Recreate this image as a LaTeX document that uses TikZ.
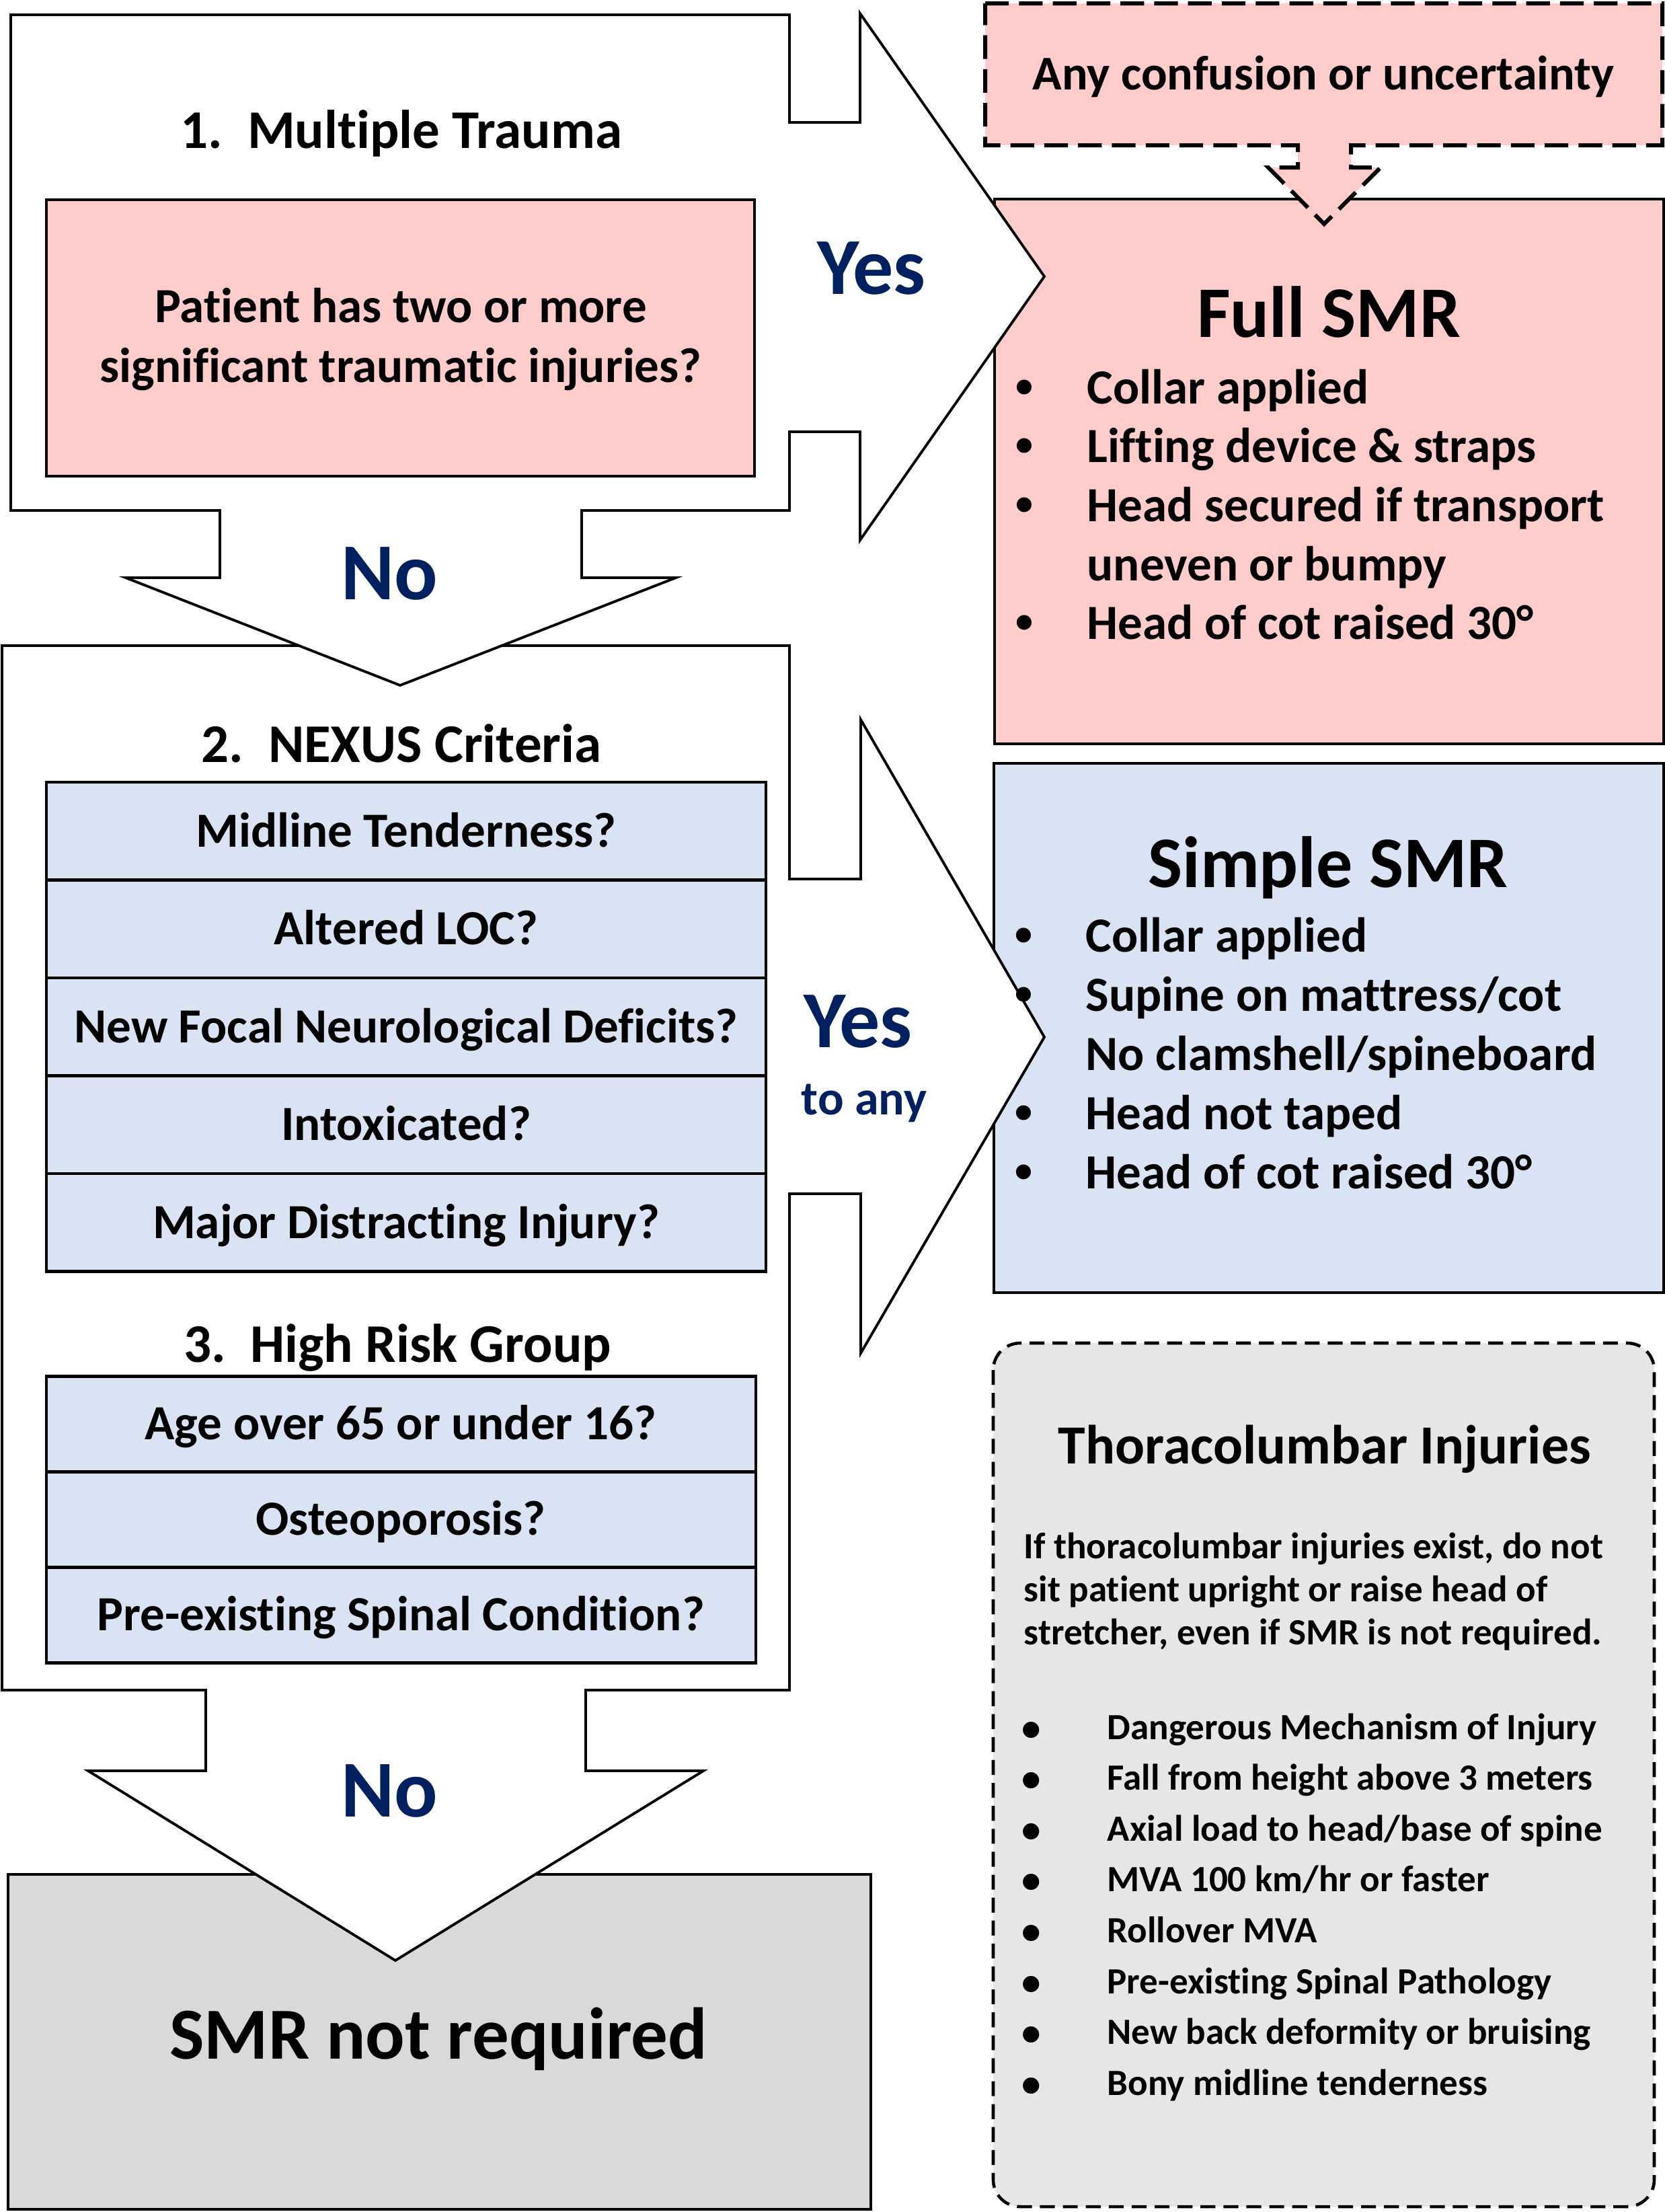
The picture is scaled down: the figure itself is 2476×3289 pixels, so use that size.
\documentclass[tikz,border=0pt]{standalone}
\usepackage{fontspec}
\setmainfont{Carlito}[Ligatures=CommonOff]
\usetikzlibrary{positioning}
\definecolor{pinkfill}{RGB}{255,204,204}
\definecolor{bluefill}{RGB}{218,227,243}
\definecolor{greyfill}{RGB}{217,217,217}
\definecolor{notefill}{RGB}{231,230,230}
\definecolor{navy}{RGB}{0,32,96}
\newdimen\pxu \pxu=0.28453pt
\newcommand{\pxfont}[2]{\fontsize{#1\pxu}{#2\pxu}\selectfont\bfseries}
\tikzset{
  arrowframe/.style={draw=black, line width=1.1pt, fill=white, line join=miter},
  box/.style={draw=black, line width=0.9pt},
  rowbox/.style={draw=black, line width=1.3pt, fill=bluefill},
  txt/.style={inner sep=0pt, anchor=base},
  item/.style={inner sep=0pt, anchor=base west},
  heading/.style={txt, font=\pxfont{81}{99}},
  question/.style={txt, font=\pxfont{73}{89}},
  answer/.style={txt, text=navy, font=\pxfont{120}{146}},
  bigtitle/.style={txt, font=\pxfont{108}{132}},
  listtext/.style={item, font=\pxfont{73}{89}},
  listbullet/.style={txt, font=\pxfont{52}{64}},
  notetext/.style={item, font=\pxfont{55}{64}},
}
\begin{document}
\begin{tikzpicture}[x=0.01cm, y=-0.01cm]
\useasboundingbox (0,0) rectangle (2476,3289);
% the result boxes
\draw[box, fill=pinkfill] (1479,296) rectangle (2474,1106);
\draw[box, fill=bluefill] (1478,1135) rectangle (2474,1922);
\draw[box, fill=greyfill] (12,2787) rectangle (1295,3285);
% the dashed call-out and its little arrow
\draw[fill=pinkfill, line width=1.7pt, dash pattern=on 10pt off 4.3pt, line join=miter]
  (1465,5) -- (2472,5) -- (2472,216) -- (2009,216) -- (2009,249) -- (2053,249)
  -- (1969,333) -- (1886,249) -- (1930,249) -- (1930,216) -- (1465,216) -- cycle;
% the second step with its yes and no arrows
\draw[arrowframe] (3,960) -- (1174,960) -- (1174,1307) -- (1280,1307) -- (1280,1070)
  -- (1553,1542) -- (1280,2012) -- (1280,1775) -- (1174,1775) -- (1174,2513)
  -- (871,2513) -- (871,2633) -- (1046,2633) -- (588,2915) -- (131,2633)
  -- (306,2633) -- (306,2513) -- (3,2513) -- cycle;
% the first step with its yes and no arrows
\draw[arrowframe] (16,22) -- (1174,22) -- (1174,182) -- (1279,182) -- (1279,20)
  -- (1553,411) -- (1279,803) -- (1279,642) -- (1174,642) -- (1174,759)
  -- (865,759) -- (865,859) -- (1005,859) -- (595,1019) -- (187,859)
  -- (327,859) -- (327,759) -- (16,759) -- cycle;
% the thoracolumbar note
\draw[fill=notefill, line width=1.3pt, rounded corners=0.4cm, dash pattern=on 6.3pt off 3.4pt]
  (1477,1997) rectangle (2460,3281);

% step 1
\node[heading] (trauma) at (597,220) {1.\ \ Multiple Trauma};
\draw[box, fill=pinkfill] (69,297) rectangle (1122,708);
\node[question] (patient1) at (596,479) {Patient has two or more};
\node[question] (patient2) at (596,568) {significant traumatic injuries?};
\node[answer] (yes1) at (1296,437) {Yes};
\node[answer] (no1) at (579,891) {No};

% step 2
\node[heading] (nexus) at (597,1133) {2.\ \ NEXUS Criteria};
\foreach \crit [count=\i from 0] in {Midline Tenderness?, Altered LOC?,
    New Focal Neurological Deficits?, Intoxicated?, Major Distracting Injury?}
{
  \draw[rowbox] (69,{1163+145.5*\i}) rectangle (1139,{1308.5+145.5*\i});
  \node[question] (crit\i) at (604,{1259+145.5*\i}) {\crit};
}
\node[answer] (yes2) at (1276,1557) {Yes};
\node[txt, text=navy, font=\pxfont{72}{88}] (toany) at (1285,1657) {to any};

% step 3
\node[heading] (risk) at (591,2025) {3.\ \ High Risk Group};
\foreach \grp [count=\i from 0] in {Age over 65 or under 16?, Osteoporosis?,
    Pre-existing Spinal Condition?}
{
  \draw[rowbox] (69,{2046.5+142*\i}) rectangle (1124,{2188.5+142*\i});
  \node[question] (grp\i) at (596,{2140.5+142*\i}) {\grp};
}
\node[answer] (no2) at (579,2701) {No};
\node[txt, font=\pxfont{109}{133}] (notreq) at (652,3061) {SMR not required};

% the right column
\node[txt, font=\pxfont{72}{88}] (confusion) at (1968,133) {Any confusion or uncertainty};
\node[bigtitle] (fullsmr) at (1976,501) {Full SMR};
\foreach \txt [count=\i from 0] in {Collar applied, Lifting device \& straps,
    Head secured if transport, uneven or bumpy, Head of cot raised 30°}
  \node[listtext] (full\i) at (1616,{600+87.7*\i}) {\txt};
\foreach \i in {0,1,2,4}
  \node[listbullet] (fullbul\i) at (1523,{590+87.7*\i}) {•};

\node[bigtitle] (simplesmr) at (1975,1319) {Simple SMR};
\foreach \txt [count=\i from 0] in {Collar applied, Supine on mattress/cot,
    No clamshell/spineboard, Head not taped, Head of cot raised 30°}
  \node[listtext] (simple\i) at (1614,{1415+88.2*\i}) {\txt};
\foreach \i in {0,1,3,4}
  \node[listbullet] (simplebul\i) at (1522,{1405+88.2*\i}) {•};

% the note text
\node[txt, font=\pxfont{82}{100}] (thoraco) at (1970,2176) {Thoracolumbar Injuries};
\foreach \txt [count=\i from 0] in {{If thoracolumbar injuries exist, do not},
    sit patient upright or raise head of, {stretcher, even if SMR is not required.}}
  \node[notetext] (warn\i) at (1522,{2317+64*\i}) {\txt};
\foreach \txt [count=\i from 0] in {Dangerous Mechanism of Injury,
    Fall from height above 3 meters, Axial load to head/base of spine,
    MVA 100 km/hr or faster, Rollover MVA, Pre-existing Spinal Pathology,
    New back deformity or bruising, Bony midline tenderness}
{
  \node[txt, font=\pxfont{57}{64}] (mechbul\i) at (1534,{2588+75.6*\i}) {•};
  \node[notetext] (mech\i) at (1646,{2586+75.6*\i}) {\txt};
}
\end{tikzpicture}
\end{document}
